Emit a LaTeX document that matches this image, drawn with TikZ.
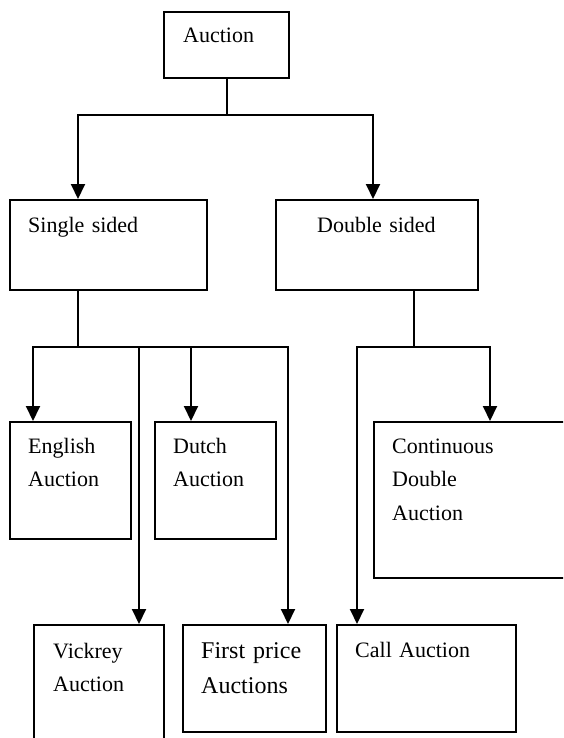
\documentclass[tikz,border=0pt]{standalone}
\usepackage{fontspec}
\setmainfont{Liberation Serif}
\usetikzlibrary{arrows.meta,calc}
\begin{document}
\begin{tikzpicture}[x=1pt,y=-1pt,
  box/.style={draw, line width=1.8pt, anchor=north west, inner sep=0pt, minimum width=#1},
  txt/.style={anchor=base west, inner sep=0pt, text width=200pt, align=left, font=\fontsize{22}{33.5}\selectfont},
  bigtxt/.style={anchor=base west, inner sep=0pt, text width=200pt, align=left, font=\fontsize{24}{35}\selectfont},
  conn/.style={line width=2pt},
  arr/.style={line width=2pt, -{Triangle[width=14pt,length=15pt]}}
]
\useasboundingbox (0,0) rectangle (563,738);
\clip (0,0) rectangle (563,738);
% boxes
\node[box=125pt, minimum height=66pt] (auc) at (163,11) {};
\node[box=197pt, minimum height=90pt] (ss) at (9,199) {};
\node[box=202pt, minimum height=90pt] (ds) at (275,199) {};
\node[box=121pt, minimum height=117pt] (eng) at (9,421) {};
\node[box=121pt, minimum height=117pt] (dut) at (154,421) {};
\node[box=227pt, minimum height=156pt] (cda) at (373,421) {};
\node[box=130pt, minimum height=136pt] (vic) at (33,624) {};
\node[box=143pt, minimum height=107pt] (fp) at (182,624) {};
\node[box=179pt, minimum height=107pt] (call) at (336,624) {};
% texts
\node[txt] (tauc) at (183,43) {Auction};
\node[txt] (tss) at (28,232) {Single sided};
\node[txt] (tds) at (317,232) {Double sided};
\node[txt] (teng) at (28,453) {English\\Auction};
\node[txt] (tdut) at (173,453) {Dutch\\Auction};
\node[txt] (tcda) at (392,453) {Continuous\\Double\\Auction};
\node[txt] (tvic) at (53,658) {Vickrey\\Auction};
\node[bigtxt] (tfp) at (201,658) {First price\\Auctions};
\node[txt] (tcall) at (355,657) {Call Auction};
% connectors
\draw[conn] ($(auc.south)+(1,0)$) -- ++(0,36) coordinate (j1);
\draw[arr] (j1) -| ($(ss.north west)+(69,0)$);
\draw[arr] (j1) -| ($(ds.north west)+(98,0)$);
\draw[conn] ($(ss.south west)+(69,0)$) -- ++(0,56) coordinate (j2);
\draw[arr] (j2) -| ($(eng.north west)+(24,0)$);
\draw[arr] (j2) -| ($(vic.north west)+(106,0)$);
\draw[arr] (j2) -| ($(dut.north west)+(37,0)$);
\draw[arr] (j2) -| ($(fp.north west)+(106,0)$);
\draw[conn] ($(ds.south west)+(139,0)$) -- ++(0,56) coordinate (j3);
\draw[arr] (j3) -| ($(cda.north west)+(117,0)$);
\draw[arr] (j3) -| ($(call.north west)+(21,0)$);
\end{tikzpicture}
\end{document}
